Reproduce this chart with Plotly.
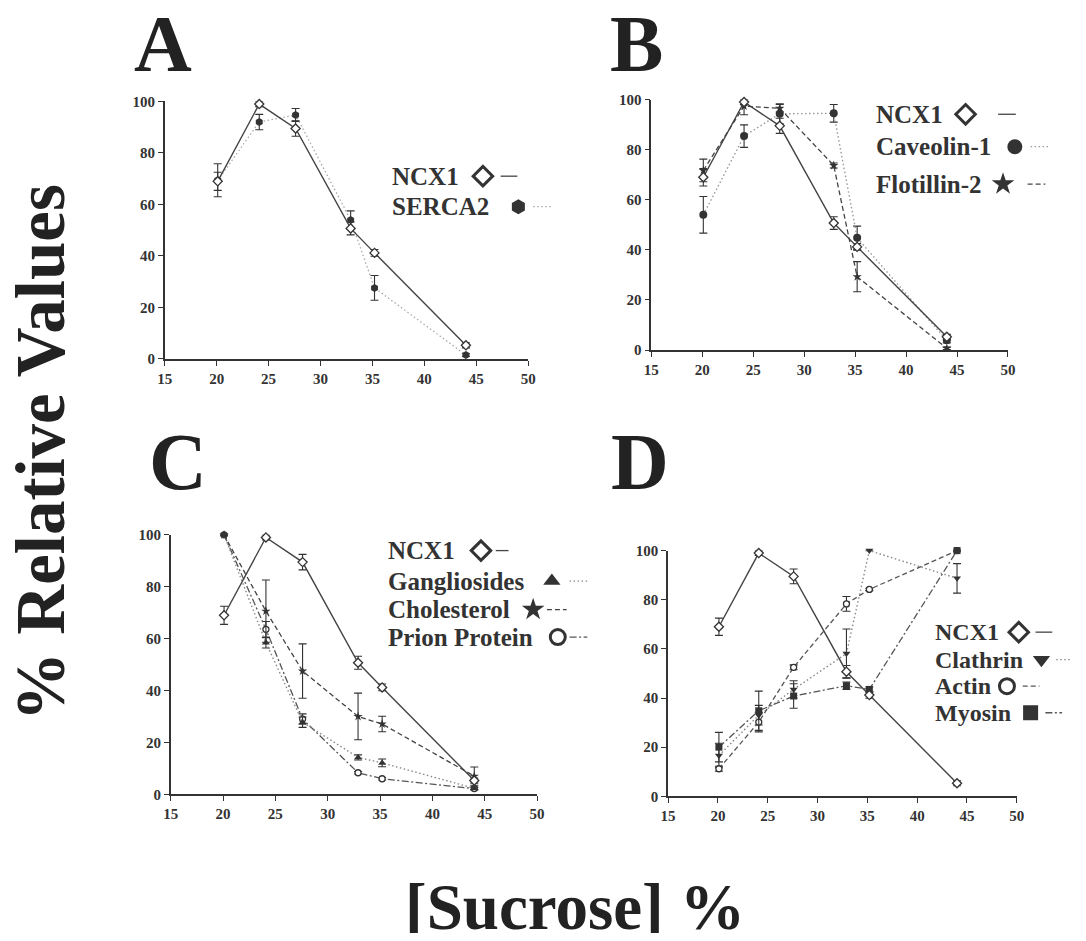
import plotly.graph_objects as go

# ---------------- data ----------------
sucrose = [20.1, 24.1, 27.6, 32.9, 35.2, 44.0]

ncx1 = [69.0, 99.0, 89.5, 50.7, 41.2, 5.3]
ncx1_err = [3.5, 1.0, 3.0, 2.5, 1.3, 1.0]

serca2 = [69.4, 92.0, 94.8, 54.0, 27.6, 1.5]
serca2_err = [6.4, 3.0, 2.5, 3.5, 4.8, 0.5]

caveolin1 = [54.0, 85.4, 94.3, 94.5, 44.8, 3.9]
caveolin1_err = [7.3, 4.5, 4.0, 3.5, 4.7, 1.0]

flotillin2 = [71.7, 97.4, 96.5, 73.7, 29.3, 0.7]
flotillin2_err = [4.5, 3.5, 1.5, 1.0, 6.0, 0.5]

gangliosides = [100.0, 58.4, 27.8, 14.2, 12.1, 2.3]
gangliosides_err = [0.0, 2.0, 2.0, 1.0, 1.5, 0.5]

cholesterol = [100.0, 70.6, 47.5, 30.0, 27.1, 7.0]
cholesterol_err = [0.0, 12.0, 10.5, 9.0, 3.0, 3.5]

prion = [100.0, 63.6, 29.0, 8.3, 6.0, 2.2]
prion_err = [0.0, 3.0, 2.0, 0.5, 0.5, 0.5]

clathrin = [16.6, 33.0, 43.5, 58.1, 100.0, 88.7]
clathrin_err = [5.0, 4.0, 3.5, 10.0, 0.0, 6.0]

actin = [11.2, 30.2, 52.5, 78.3, 84.2, 100.0]
actin_err = [1.0, 4.0, 1.0, 3.0, 0.5, 0.0]

myosin = [20.0, 34.8, 40.8, 45.0, 43.5, 100.0]
myosin_err = [6.0, 8.0, 5.0, 1.5, 1.0, 0.0]

x_ticks = [15, 20, 25, 30, 35, 40, 45, 50]
y_ticks = [0, 20, 40, 60, 80, 100]

# ---------------- styles ----------------
SERIF = "Liberation Serif"
DARK = "#333333"
OFF = 8          # default body margin of the page
W, H = 1070, 925

DOT = "1.5px,2.5px"
DASH = "5px,3px"
DASHDOT = "7px,2.5px,2px,2.5px"


def fx(px):
    return (px - OFF) / W


def fy(py):
    return 1 - (py - OFF) / H


styles = {
    "NCX1": dict(marker=dict(symbol="diamond", size=7, color="white", line=dict(color=DARK, width=1.3)),
                 line=dict(color="#444444", width=1.4, dash="solid")),
    "SERCA2": dict(marker=dict(symbol="hexagon", size=8, color=DARK, line=dict(width=0)),
                   line=dict(color="#aaaaaa", width=1.3, dash=DOT)),
    "Caveolin-1": dict(marker=dict(symbol="circle", size=8, color=DARK, line=dict(width=0)),
                       line=dict(color="#999999", width=1.4, dash=DOT)),
    "Flotillin-2": dict(marker=dict(symbol="star", size=7, color=DARK, line=dict(width=0)),
                        line=dict(color="#444444", width=1.3, dash=DASH)),
    "Gangliosides": dict(marker=dict(symbol="triangle-up", size=7, color=DARK, line=dict(width=0)),
                         line=dict(color="#888888", width=1.4, dash=DOT)),
    "Cholesterol": dict(marker=dict(symbol="star", size=7, color=DARK, line=dict(width=0)),
                        line=dict(color="#444444", width=1.3, dash=DASH)),
    "Prion Protein": dict(marker=dict(symbol="circle", size=6, color="white", line=dict(color=DARK, width=1.3)),
                          line=dict(color="#555555", width=1.3, dash=DASHDOT)),
    "Clathrin": dict(marker=dict(symbol="triangle-down", size=7, color=DARK, line=dict(width=0)),
                     line=dict(color="#888888", width=1.4, dash=DOT)),
    "Actin": dict(marker=dict(symbol="circle", size=6, color="white", line=dict(color=DARK, width=1.3)),
                  line=dict(color="#555555", width=1.3, dash=DASH)),
    "Myosin": dict(marker=dict(symbol="square", size=7, color=DARK, line=dict(width=0)),
                   line=dict(color="#555555", width=1.3, dash=DASHDOT)),
}

panels = [
    # (letter, axis suffix, series list, domain px x0,x1,y_top,y_bottom)
    ("A", "", [("SERCA2", serca2, serca2_err), ("NCX1", ncx1, ncx1_err)], (159, 528, 95, 357)),
    ("B", "2", [("Caveolin-1", caveolin1, caveolin1_err), ("Flotillin-2", flotillin2, flotillin2_err),
                ("NCX1", ncx1, ncx1_err)], (653, 1015, 93, 348)),
    ("C", "3", [("Prion Protein", prion, prion_err), ("Gangliosides", gangliosides, gangliosides_err),
                ("Cholesterol", cholesterol, cholesterol_err), ("NCX1", ncx1, ncx1_err)], (165, 537, 536, 800)),
    ("D", "4", [("Clathrin", clathrin, clathrin_err), ("Actin", actin, actin_err),
                ("Myosin", myosin, myosin_err), ("NCX1", ncx1, ncx1_err)], (670, 1024, 552, 802)),
]

fig = go.Figure()

axis_common = dict(showline=True, linecolor=DARK, linewidth=1.5, ticks="outside", ticklen=5,
                   tickwidth=1.3, tickcolor=DARK, showgrid=False, zeroline=False,
                   tickfont=dict(family=SERIF, size=15, color=DARK, weight="bold"))

for letter, sfx, series, (x0, x1, yt, yb) in panels:
    xa = "x" + sfx
    ya = "y" + sfx
    for name, vals, errs in series:
        st = styles[name]
        fig.add_trace(go.Scatter(
            x=sucrose, y=vals, mode="lines+markers", name=name, showlegend=False,
            xaxis=xa, yaxis=ya, cliponaxis=False,
            marker=st["marker"], line=st["line"],
            error_y=dict(type="data", array=errs, visible=True, color=DARK, thickness=1.1, width=4),
        ))
    fig.layout["xaxis" + sfx] = dict(axis_common, domain=[fx(x0), fx(x1)], range=[15, 50],
                                     tickvals=x_ticks, anchor=ya)
    fig.layout["yaxis" + sfx] = dict(axis_common, domain=[fy(yb), fy(yt)], range=[0, 100],
                                     tickvals=y_ticks, anchor=xa)

# ---------------- legends (text, key symbol, key line) ----------------
legends = [
    # name, text left px, y px, symbol x px, line x0, line x1, font size
    ("NCX1", 392, 171, 482, 500, 517, 25),
    ("SERCA2", 392, 202, 518, 533, 552, 25),
    ("NCX1", 883, 108, 972, 1005, 1023, 25),
    ("Caveolin-1", 883, 141, 1022, 1038, 1058, 25),
    ("Flotillin-2", 883, 179, 1010, 1035, 1053, 25),
    ("NCX1", 388, 552, 480, 495, 508, 25),
    ("Gangliosides", 388, 583, 552, 570, 588, 25),
    ("Cholesterol", 388, 612, 533, 547, 567, 25),
    ("Prion Protein", 388, 640, 558, 570, 588, 25),
    ("NCX1", 943, 635, 1026, 1043, 1060, 24),
    ("Clathrin", 943, 663, 1049, 1064, 1080, 24),
    ("Actin", 943, 690, 1014, 1030, 1047, 24),
    ("Myosin", 943, 717, 1038, 1053, 1070, 24),
]

annotations = []
shapes = []
for name, tx, ty, sx, lx0, lx1, fs in legends:
    st = styles[name]
    annotations.append(dict(x=fx(tx - 4), y=fy(ty), xref="paper", yref="paper", text="<b>%s</b>" % name,
                            showarrow=False, xanchor="left", yanchor="middle",
                            font=dict(family=SERIF, size=fs, color=DARK)))
    mk = dict(st["marker"])
    mk["size"] = 15 if mk["symbol"] not in ("star",) else 17
    if "line" in mk and mk["line"].get("width", 0):
        mk["line"] = dict(mk["line"], width=3)
    fig.add_trace(go.Scatter(x=[sx], y=[ty], mode="markers", marker=mk, showlegend=False,
                             xaxis="x5", yaxis="y5", hoverinfo="skip", cliponaxis=False))
    shapes.append(dict(type="line", xref="x5", yref="y5", x0=lx0, x1=lx1, y0=ty, y1=ty,
                       line=dict(color=st["line"]["color"], width=1.3, dash=st["line"]["dash"])))

fig.layout["xaxis5"] = dict(domain=[0, 1], range=[OFF, OFF + W], visible=False, anchor="y5")
fig.layout["yaxis5"] = dict(domain=[0, 1], range=[OFF + H, OFF], visible=False, anchor="x5")

# panel letters
for letter, px, py in [("A", 157, 37), ("B", 638, 37), ("C", 172, 462), ("D", 641, 462)]:
    annotations.append(dict(x=fx(px), y=fy(py), xref="paper", yref="paper", text="<b>%s</b>" % letter,
                            showarrow=False, xanchor="center", yanchor="middle",
                            font=dict(family=SERIF, size=80, color="#222222")))

# axis titles
annotations.append(dict(x=fx(34), y=fy(452), xref="paper", yref="paper", text="<b>% Relative Values</b>",
                        showarrow=False, textangle=-90, xanchor="center", yanchor="middle",
                        font=dict(family=SERIF, size=69, color="#222222")))
annotations.append(dict(x=fx(575), y=fy(915), xref="paper", yref="paper", text="<b>[Sucrose] %</b>",
                        showarrow=False, xanchor="center", yanchor="middle",
                        font=dict(family=SERIF, size=65, color="#222222")))

fig.update_layout(width=W, height=H, margin=dict(l=0, r=0, t=0, b=0),
                  paper_bgcolor="white", plot_bgcolor="rgba(0,0,0,0)",
                  annotations=annotations, shapes=shapes, showlegend=False)

fig.write_html("out.html")
